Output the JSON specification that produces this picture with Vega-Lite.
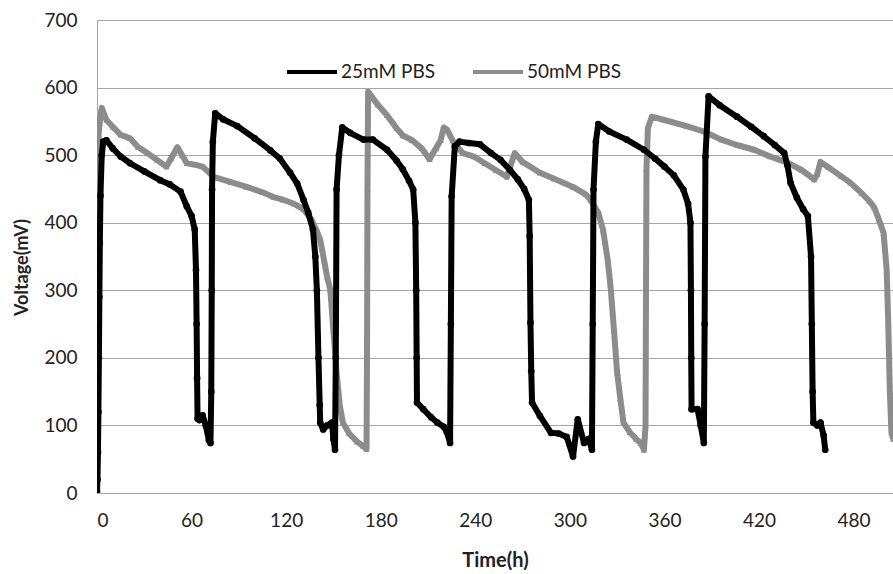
{
  "$schema": "https://vega.github.io/schema/vega-lite/v6.json",
  "width": 796,
  "height": 473,
  "autosize": {"type": "none"},
  "padding": {"left": 97, "top": 20, "right": 0, "bottom": 81},
  "background": "white",
  "config": {
    "view": {"stroke": null},
    "font": "Lato",
    "axis": {"gridColor": "#a6a6a6", "gridWidth": 1.2, "domainColor": "#a6a6a6", "ticks": false, "labelFont": "Lato", "labelFontSize": 19, "labelColor": "#222", "titleFont": "Lato", "titleFontSize": 18, "titleFontWeight": "bold", "titleColor": "#222"},
    "legend": {"title": null, "orient": "none", "legendX": 188, "legendY": 25, "direction": "horizontal", "symbolType": "stroke", "symbolSize": 2500, "symbolStrokeWidth": 4, "labelFontSize": 19, "labelFont": "Lato", "labelColor": "#222", "columnPadding": 30, "labelOffset": 2}
  },
  "datasets": {
    "pbs25": [
      {"t":0,"v":3},{"t":0.3,"v":20},{"t":0.6,"v":60},{"t":0.9,"v":120},{"t":1.2,"v":200},{"t":1.5,"v":290},{"t":1.8,"v":370},{"t":2.2,"v":440},{"t":3,"v":500},{"t":4,"v":520},{"t":6,"v":522},{"t":10,"v":510},{"t":15,"v":498},{"t":21,"v":488},{"t":30,"v":476},{"t":40,"v":463},{"t":46,"v":457},{"t":53,"v":446},{"t":57,"v":424},{"t":60,"v":410},{"t":62,"v":390},{"t":62.8,"v":330},{"t":63.2,"v":250},{"t":63.5,"v":170},{"t":63.8,"v":110},{"t":65,"v":108},{"t":67,"v":115},{"t":69,"v":100},{"t":71,"v":78},{"t":72,"v":74},{"t":72.5,"v":150},{"t":72.8,"v":300},{"t":73,"v":449},{"t":73.5,"v":520},{"t":75,"v":562},{"t":80,"v":553},{"t":89,"v":543},{"t":100,"v":525},{"t":110,"v":507},{"t":116,"v":495},{"t":122.5,"v":474},{"t":127,"v":458},{"t":131,"v":434},{"t":134,"v":415},{"t":137,"v":390},{"t":138.5,"v":350},{"t":139.5,"v":300},{"t":140.5,"v":200},{"t":141.3,"v":130},{"t":141.6,"v":104},{"t":143.5,"v":94},{"t":146,"v":100},{"t":149,"v":104},{"t":150,"v":80},{"t":151,"v":64},{"t":151.5,"v":200},{"t":152,"v":449},{"t":153.5,"v":500},{"t":155.6,"v":541},{"t":160.6,"v":533},{"t":169,"v":523},{"t":175,"v":523},{"t":184,"v":508},{"t":190,"v":492},{"t":194,"v":479},{"t":198,"v":462},{"t":200.6,"v":449},{"t":202,"v":400},{"t":202.5,"v":300},{"t":202.8,"v":200},{"t":203,"v":134},{"t":207,"v":124},{"t":212,"v":112},{"t":216,"v":104},{"t":220,"v":98},{"t":222,"v":90},{"t":224,"v":74},{"t":224.5,"v":250},{"t":225,"v":439},{"t":227,"v":513},{"t":230,"v":520},{"t":236,"v":518},{"t":243,"v":516},{"t":250,"v":503},{"t":256,"v":493},{"t":262,"v":478},{"t":267,"v":464},{"t":271,"v":450},{"t":274,"v":434},{"t":274.5,"v":380},{"t":275,"v":252},{"t":275.5,"v":180},{"t":276,"v":134},{"t":281,"v":114},{"t":288,"v":89},{"t":293,"v":88},{"t":298,"v":83},{"t":302,"v":54},{"t":305,"v":109},{"t":309,"v":74},{"t":312,"v":80},{"t":314,"v":64},{"t":314.5,"v":250},{"t":315,"v":449},{"t":316.5,"v":520},{"t":318,"v":546},{"t":325,"v":535},{"t":336,"v":523},{"t":347,"v":508},{"t":354,"v":495},{"t":360,"v":483},{"t":366,"v":470},{"t":372,"v":449},{"t":375,"v":428},{"t":376.5,"v":400},{"t":376.8,"v":300},{"t":377,"v":200},{"t":377.2,"v":124},{"t":381,"v":124},{"t":383,"v":100},{"t":385,"v":74},{"t":385.5,"v":250},{"t":386,"v":498},{"t":388,"v":587},{"t":395,"v":574},{"t":406,"v":557},{"t":415,"v":542},{"t":423,"v":528},{"t":430,"v":515},{"t":436,"v":503},{"t":438,"v":485},{"t":440,"v":459},{"t":444,"v":437},{"t":448,"v":420},{"t":451,"v":410},{"t":453,"v":350},{"t":453.5,"v":250},{"t":454,"v":150},{"t":454.5,"v":104},{"t":457,"v":100},{"t":459,"v":104},{"t":461,"v":85},{"t":462,"v":64}
    ],
    "pbs50": [
      {"t":0,"v":350},{"t":0.3,"v":480},{"t":1,"v":530},{"t":2,"v":555},{"t":3,"v":570},{"t":6,"v":552},{"t":10,"v":542},{"t":15,"v":530},{"t":21,"v":525},{"t":26,"v":512},{"t":32,"v":503},{"t":38,"v":493},{"t":44,"v":483},{"t":47,"v":495},{"t":51,"v":512},{"t":54,"v":500},{"t":57,"v":488},{"t":62,"v":486},{"t":67,"v":483},{"t":74,"v":468},{"t":85,"v":460},{"t":95,"v":453},{"t":105,"v":445},{"t":112,"v":438},{"t":118,"v":434},{"t":125,"v":428},{"t":131,"v":420},{"t":136,"v":405},{"t":139,"v":390},{"t":141.6,"v":375},{"t":144,"v":345},{"t":146,"v":320},{"t":148,"v":301},{"t":150,"v":240},{"t":152,"v":178},{"t":154,"v":130},{"t":156,"v":104},{"t":160,"v":88},{"t":165,"v":76},{"t":169,"v":69},{"t":171,"v":65},{"t":171.3,"v":200},{"t":171.6,"v":450},{"t":172,"v":594},{"t":178,"v":575},{"t":184,"v":559},{"t":190,"v":540},{"t":194,"v":529},{"t":200,"v":522},{"t":206,"v":510},{"t":211,"v":494},{"t":215,"v":510},{"t":218,"v":522},{"t":220,"v":541},{"t":222,"v":538},{"t":226,"v":520},{"t":232,"v":503},{"t":239,"v":498},{"t":246,"v":488},{"t":253,"v":478},{"t":260,"v":468},{"t":265,"v":503},{"t":270,"v":490},{"t":281,"v":474},{"t":290,"v":465},{"t":302,"v":453},{"t":310,"v":442},{"t":313,"v":434},{"t":318,"v":415},{"t":321,"v":390},{"t":324,"v":345},{"t":326,"v":301},{"t":328,"v":240},{"t":330,"v":178},{"t":332,"v":140},{"t":334,"v":104},{"t":338,"v":90},{"t":342,"v":80},{"t":345,"v":74},{"t":347,"v":64},{"t":348,"v":100},{"t":348.3,"v":300},{"t":348.6,"v":480},{"t":349.5,"v":540},{"t":352,"v":557},{"t":360,"v":552},{"t":374,"v":543},{"t":385,"v":535},{"t":396,"v":523},{"t":406,"v":515},{"t":417,"v":508},{"t":427,"v":498},{"t":438,"v":489},{"t":447,"v":478},{"t":455,"v":464},{"t":457,"v":472},{"t":459,"v":490},{"t":464,"v":482},{"t":472,"v":469},{"t":478,"v":459},{"t":485,"v":444},{"t":490,"v":432},{"t":493,"v":423},{"t":496,"v":405},{"t":499,"v":385},{"t":501,"v":330},{"t":502,"v":250},{"t":503,"v":150},{"t":504,"v":90},{"t":505,"v":80}
    ]
  },
  "encoding": {
    "x": {"field": "t", "type": "quantitative", "scale": {"domain": [0, 505], "nice": false, "zero": false}, "axis": {"values": [0,60,120,180,240,300,360,420,480], "title": "Time(h)", "titleFontSize": 20, "labelPadding": 18, "titlePadding": 20, "grid": false, "domain": false}},
    "y": {"field": "v", "type": "quantitative", "scale": {"domain": [0, 700], "nice": false}, "axis": {"values": [0,100,200,300,400,500,600,700], "title": "Voltage(mV)", "titleY": 247, "labelPadding": 20, "titlePadding": 12}}
  },
  "layer": [
    {
      "data": {"name": "pbs50"},
      "transform": [{"calculate": "'50mM PBS'", "as": "series"}],
      "mark": {"type": "line", "strokeWidth": 6, "clip": true, "strokeJoin": "round"},
      "encoding": {"color": {"field": "series", "type": "nominal", "scale": {"domain": ["25mM PBS", "50mM PBS"], "range": ["#000000", "#8c8c8c"]}}}
    },
    {
      "data": {"name": "pbs50"},
      "mark": {"type": "point", "shape": "triangle-up", "filled": true, "size": 40, "color": "#8c8c8c", "opacity": 1, "clip": true},
      "encoding": {}
    },
    {
      "data": {"name": "pbs25"},
      "transform": [{"calculate": "'25mM PBS'", "as": "series"}],
      "mark": {"type": "line", "strokeWidth": 6, "clip": true, "strokeJoin": "round"},
      "encoding": {"color": {"field": "series", "type": "nominal", "scale": {"domain": ["25mM PBS", "50mM PBS"], "range": ["#000000", "#8c8c8c"]}}}
    },
    {
      "data": {"name": "pbs25"},
      "mark": {"type": "point", "shape": "circle", "filled": true, "size": 45, "color": "#000000", "opacity": 1, "clip": true},
      "encoding": {}
    }
  ]
}
